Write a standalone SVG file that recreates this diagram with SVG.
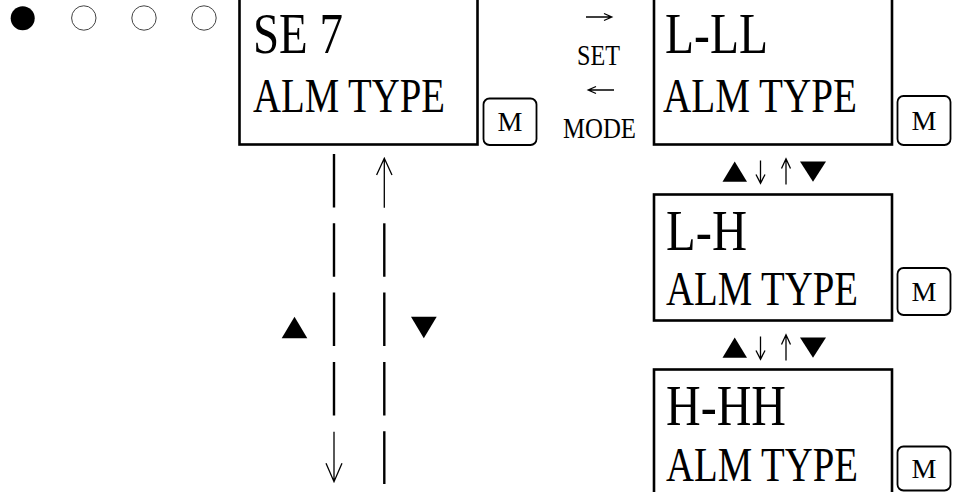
<svg xmlns="http://www.w3.org/2000/svg" width="957" height="492" viewBox="0 0 957 492">
<style>
.box{fill:#fff;stroke:#000;stroke-width:2.6}
.btn{fill:#fff;stroke:#000;stroke-width:1.8}
.t{font-family:"Liberation Serif","Times New Roman",serif;fill:#000}
.big{font-size:57px}
.mid{font-size:48px}
.sm{font-size:30px}
.m{font-size:28px;text-anchor:middle}
.dash{stroke:#000;stroke-width:2.4;stroke-dasharray:53.5 15.8;fill:none}
.thin{stroke:#000;stroke-width:1.3;fill:none}
.tri{fill:#000}
</style>
<rect width="957" height="492" fill="#fff"/>
<g id="indicators">
<circle cx="22.7" cy="18.3" r="12" fill="#000"/>
<circle cx="83.8" cy="18" r="12.2" fill="#fff" stroke="#444" stroke-width="1"/>
<circle cx="144" cy="18" r="12.2" fill="#fff" stroke="#444" stroke-width="1"/>
<circle cx="204" cy="18" r="12.2" fill="#fff" stroke="#444" stroke-width="1"/>
</g>
<g id="node-se7">
<rect class="box" x="239.5" y="-10" width="238" height="154.5"/>
<text class="t big" x="253" y="53" textLength="90" lengthAdjust="spacingAndGlyphs">SE 7</text>
<text class="t mid" x="253" y="112" textLength="192" lengthAdjust="spacingAndGlyphs">ALM TYPE</text>
<rect class="btn" x="483.5" y="98.5" width="53" height="46.5" rx="6"/>
<text class="t m" x="510" y="131">M</text>
</g>
<g id="node-lll">
<rect class="box" x="654" y="-10" width="238" height="154.5"/>
<text class="t big" x="665" y="53" textLength="103" lengthAdjust="spacingAndGlyphs">L-LL</text>
<text class="t mid" x="663" y="112" textLength="194" lengthAdjust="spacingAndGlyphs">ALM TYPE</text>
<rect class="btn" x="897.5" y="96" width="53" height="49" rx="6"/>
<text class="t m" x="924" y="130">M</text>
</g>
<g id="node-lh">
<rect class="box" x="654" y="194.5" width="238" height="126"/>
<text class="t big" x="666" y="250" textLength="81" lengthAdjust="spacingAndGlyphs">L-H</text>
<text class="t mid" x="666" y="305" textLength="192" lengthAdjust="spacingAndGlyphs">ALM TYPE</text>
<rect class="btn" x="897.5" y="268" width="53" height="47" rx="6"/>
<text class="t m" x="924" y="301">M</text>
</g>
<g id="node-hhh">
<rect class="box" x="654" y="369.5" width="238" height="126"/>
<text class="t big" x="666" y="425" textLength="120" lengthAdjust="spacingAndGlyphs">H-HH</text>
<text class="t mid" x="666" y="481" textLength="192" lengthAdjust="spacingAndGlyphs">ALM TYPE</text>
<rect class="btn" x="897.5" y="446.5" width="53" height="44" rx="6"/>
<text class="t m" x="924" y="478">M</text>
</g>
<g id="connectors">
<path class="thin" d="M586 17H611.5M604 13.5L611.8 17L604 20.5"/>
<text class="t sm" x="577" y="65" textLength="43" lengthAdjust="spacingAndGlyphs">SET</text>
<path class="thin" d="M614 90H588.5M596 86.5L588.2 90L596 93.5"/>
<text class="t sm" x="563" y="138" textLength="73" lengthAdjust="spacingAndGlyphs">MODE</text>
<line class="dash" x1="334" y1="154" x2="334" y2="416"/>
<path class="thin" d="M334 431.7V481M326 463.3L334 481.7L342 463.3"/>
<line class="dash" x1="384.3" y1="223.3" x2="384.3" y2="484"/>
<path class="thin" d="M384.3 207.7V159M376.6 175L384.3 158.3L392 175"/>
<polygon class="tri" points="281.7,338.3 294.5,316.7 307.3,338.3"/>
<polygon class="tri" points="411,316.7 436.7,316.7 423.8,338.3"/>
<polygon class="tri" points="722.5,181.7 734.7,161.5 747,181.7"/>
<path class="thin" d="M760.5 160.5V183M756 174.5L760.5 183.3L765 174.5"/>
<path class="thin" d="M786 184.5V159M781.5 168.5L786 158.7L790.5 168.5"/>
<polygon class="tri" points="800,161.5 826,161.5 813,181.7"/>
<polygon class="tri" points="722.5,357.7 734.7,337.5 747,357.7"/>
<path class="thin" d="M760.5 336.5V359M756 350.5L760.5 359.3L765 350.5"/>
<path class="thin" d="M786 360.5V335M781.5 344.5L786 334.7L790.5 344.5"/>
<polygon class="tri" points="800,337.5 826,337.5 813,357.7"/>
</g>
</svg>
